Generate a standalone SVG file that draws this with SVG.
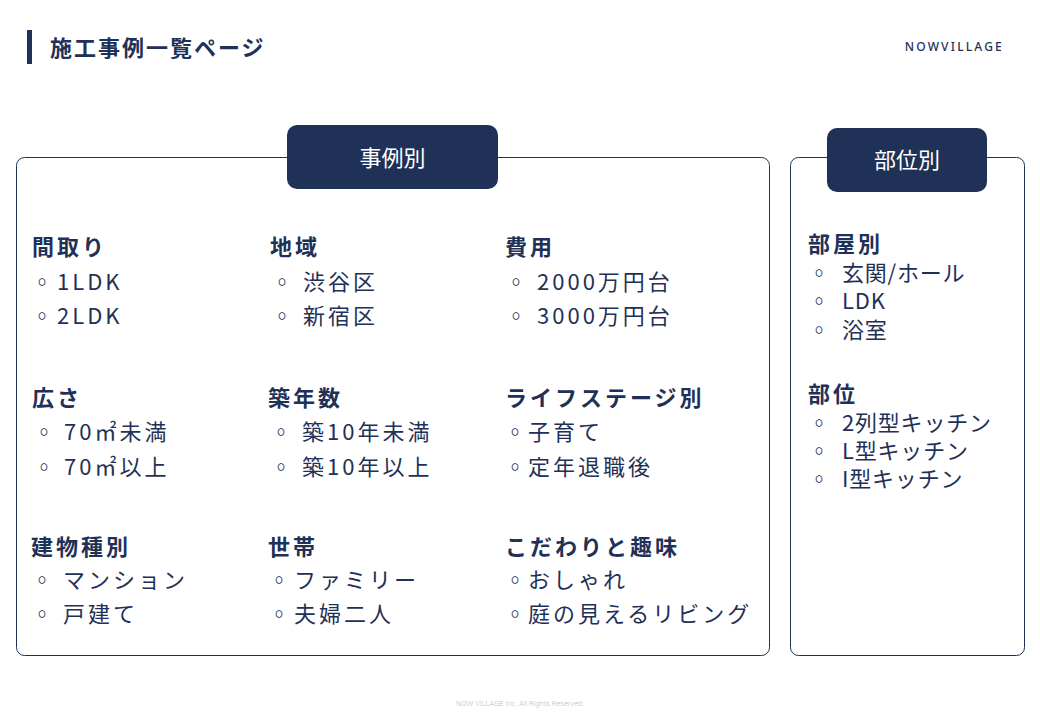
<svg xmlns="http://www.w3.org/2000/svg" width="1040" height="720" viewBox="0 0 1040 720">
<style>
.t{font-family:"Noto Sans CJK JP","Noto Sans",sans-serif;fill:#1f3157}
.h{font-size:22px;font-weight:700;letter-spacing:3px}
.i{font-size:22px;letter-spacing:3px}
.r{font-size:22px;letter-spacing:0.8px}
.tab{fill:#1f3157}
.box{fill:none;stroke:#1f3157;stroke-width:1}
.tt{font-family:"Noto Sans CJK JP","Noto Sans",sans-serif;fill:#ffffff;font-size:22px;text-anchor:middle}
</style>
<rect width="1040" height="720" fill="#ffffff"/>
<g id="header">
<rect x="27" y="30" width="5" height="34" fill="#1f3157"/>
<text class="t" x="50" y="56" font-size="22" font-weight="700" letter-spacing="2">施工事例一覧ページ</text>
<text x="1004" y="51" text-anchor="end" font-family="'Noto Sans',sans-serif" font-size="12" font-weight="500" letter-spacing="2.2" fill="#1f3157">NOWVILLAGE</text>
</g>
<g id="panel-cases">
<rect class="box" x="16.5" y="157.5" width="753" height="498" rx="8"/>
<rect class="tab" x="287" y="125" width="211" height="64" rx="10"/>
<text class="tt" x="392.5" y="166">事例別</text>
</g>
<g id="panel-parts">
<rect class="box" x="790.5" y="157.5" width="234" height="498" rx="8"/>
<rect class="tab" x="827" y="128" width="160" height="64" rx="10"/>
<text class="tt" x="907" y="168">部位別</text>
</g>
<g id="madori">
<text class="t h" x="32" y="255">間取り</text>
<text class="t i" x="31" y="290">◦<tspan x="57">1LDK</tspan></text>
<text class="t i" x="31" y="324">◦<tspan x="57">2LDK</tspan></text>
</g>
<g id="chiiki">
<text class="t h" x="270" y="255">地域</text>
<text class="t i" x="271" y="290">◦<tspan x="303">渋谷区</tspan></text>
<text class="t i" x="271" y="324">◦<tspan x="303">新宿区</tspan></text>
</g>
<g id="hiyou">
<text class="t h" x="505" y="255">費用</text>
<text class="t i" x="505" y="290">◦<tspan x="537">2000万円台</tspan></text>
<text class="t i" x="505" y="324">◦<tspan x="537">3000万円台</tspan></text>
</g>
<g id="hirosa">
<text class="t h" x="32" y="406">広さ</text>
<text class="t i" x="33" y="440">◦<tspan x="64">70㎡未満</tspan></text>
<text class="t i" x="33" y="475">◦<tspan x="64">70㎡以上</tspan></text>
</g>
<g id="chikunensu">
<text class="t h" x="268" y="406">築年数</text>
<text class="t i" x="270" y="440">◦<tspan x="302">築10年未満</tspan></text>
<text class="t i" x="270" y="475">◦<tspan x="302">築10年以上</tspan></text>
</g>
<g id="lifestage">
<text class="t h" x="505" y="406">ライフステージ別</text>
<text class="t i" x="504" y="440">◦<tspan x="528">子育て</tspan></text>
<text class="t i" x="504" y="475">◦<tspan x="528">定年退職後</tspan></text>
</g>
<g id="tatemono">
<text class="t h" x="31" y="555">建物種別</text>
<text class="t i" x="31" y="588">◦<tspan x="63">マンション</tspan></text>
<text class="t i" x="31" y="622">◦<tspan x="63">戸建て</tspan></text>
</g>
<g id="setai">
<text class="t h" x="268" y="555">世帯</text>
<text class="t i" x="268" y="588">◦<tspan x="294">ファミリー</tspan></text>
<text class="t i" x="268" y="622">◦<tspan x="294">夫婦二人</tspan></text>
</g>
<g id="kodawari">
<text class="t h" x="505" y="555">こだわりと趣味</text>
<text class="t i" x="504" y="588">◦<tspan x="528">おしゃれ</tspan></text>
<text class="t i" x="504" y="622">◦<tspan x="528">庭の見えるリビング</tspan></text>
</g>
<g id="heyabetsu">
<text class="t h" x="808" y="252">部屋別</text>
<text class="t r" x="808" y="281">◦<tspan x="842">玄関/ホール</tspan></text>
<text class="t r" x="808" y="309">◦<tspan x="842">LDK</tspan></text>
<text class="t r" x="808" y="338">◦<tspan x="842">浴室</tspan></text>
</g>
<g id="bui">
<text class="t h" x="808" y="402">部位</text>
<text class="t r" x="808" y="431">◦<tspan x="842">2列型キッチン</tspan></text>
<text class="t r" x="808" y="459">◦<tspan x="842">L型キッチン</tspan></text>
<text class="t r" x="808" y="487">◦<tspan x="842">I型キッチン</tspan></text>
</g>
<g id="footer">
<text x="520" y="706" text-anchor="middle" font-family="Roboto,'Liberation Sans',sans-serif" font-size="7.5" font-weight="300" fill="#bcbcbc">NOW VILLAGE Inc. All Rights Reserved.</text>
</g>
</svg>
